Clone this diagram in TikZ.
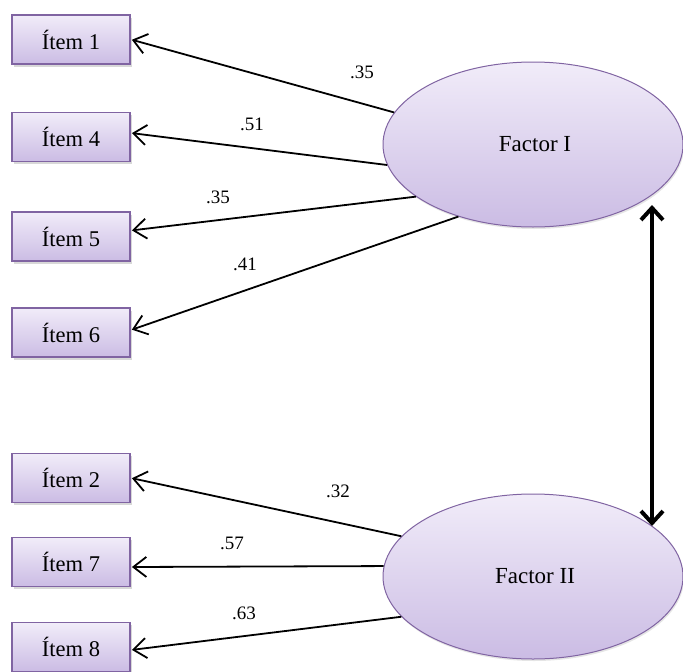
\documentclass[tikz,border=0pt]{standalone}
\usepackage{fontspec}
\setmainfont{Liberation Serif}
\usetikzlibrary{shapes.geometric,arrows.meta,shadows}
\definecolor{pborder}{RGB}{128,100,162}
\definecolor{ptop}{RGB}{241,236,249}
\definecolor{pbot}{RGB}{203,188,228}
\begin{document}
\begin{tikzpicture}[x=1pt,y=-1pt,
  item/.style={draw=pborder, line width=1.8pt, top color=ptop, bottom color=pbot,
    minimum width=118pt, minimum height=49pt, inner sep=0pt,
    font=\fontsize{22.5}{26}\selectfont,
    drop shadow={opacity=0.3, shadow xshift=1.5pt, shadow yshift=-2.5pt}},
  factor/.style={ellipse, draw=pborder, line width=1pt, top color=ptop, bottom color=pbot,
    minimum width=300pt, minimum height=165pt, inner sep=0pt,
    font=\fontsize{23}{27}\selectfont,
    drop shadow={opacity=0.2, shadow xshift=1pt, shadow yshift=-2pt}},
  load/.style={line width=1.8pt, shorten >=1pt,
    -{Straight Barb[length=13pt,width=20pt]}},
  corr/.style={line width=4pt,
    {Straight Barb[length=12pt,width=22pt]}-{Straight Barb[length=12pt,width=22pt]}},
  lbl/.style={font=\fontsize{19}{22}\selectfont, inner sep=0pt}]
\useasboundingbox (0,0) rectangle (683,672);
\fill[white] (0,0) rectangle (683,672);

% items
\node[item] (i1) at (71,39.5) {Ítem 1};
\node[item] (i4) at (71,137) {Ítem 4};
\node[item] (i5) at (71,236.5) {Ítem 5};
\node[item] (i6) at (71,332.5) {Ítem 6};
\node[item] (i2) at (71,478) {Ítem 2};
\node[item] (i7) at (71,562) {Ítem 7};
\node[item] (i8) at (71,647) {Ítem 8};

% factors
\node[factor] (F1) at (533,144.5) {\hspace*{4pt}Factor I};
\node[factor] (F2) at (533,576.5) {\hspace*{4pt}Factor II};

% loadings
\draw[load] (F1.167.6) -- ([yshift=0pt]i1.east);
\draw[load] (F1.188.2) -- ([yshift=4pt]i4.east);
\draw[load] (F1.204.5) -- ([yshift=6pt]i5.east);
\draw[load] (F1.224.1) -- ([yshift=2.5pt]i6.east);
\draw[load] (F2.163.3) -- (i2.east);
\draw[load] (F2.176.8) -- ([yshift=-5pt]i7.east);
\draw[load] (F2.197.6) -- ([yshift=-3pt]i8.east);

% correlation
\draw[corr] ([xshift=119pt,yshift=-60.5pt]F1.center) -- ([xshift=119pt,yshift=50.5pt]F2.center);

% labels
\node[lbl] (l1) at (362,72) {.35};
\node[lbl] (l4) at (252,124) {.51};
\node[lbl] (l5) at (218,197) {.35};
\node[lbl] (l6) at (245,264) {.41};
\node[lbl] (l2) at (338,491) {.32};
\node[lbl] (l7) at (232,543) {.57};
\node[lbl] (l8) at (244,613) {.63};
\end{tikzpicture}
\end{document}
